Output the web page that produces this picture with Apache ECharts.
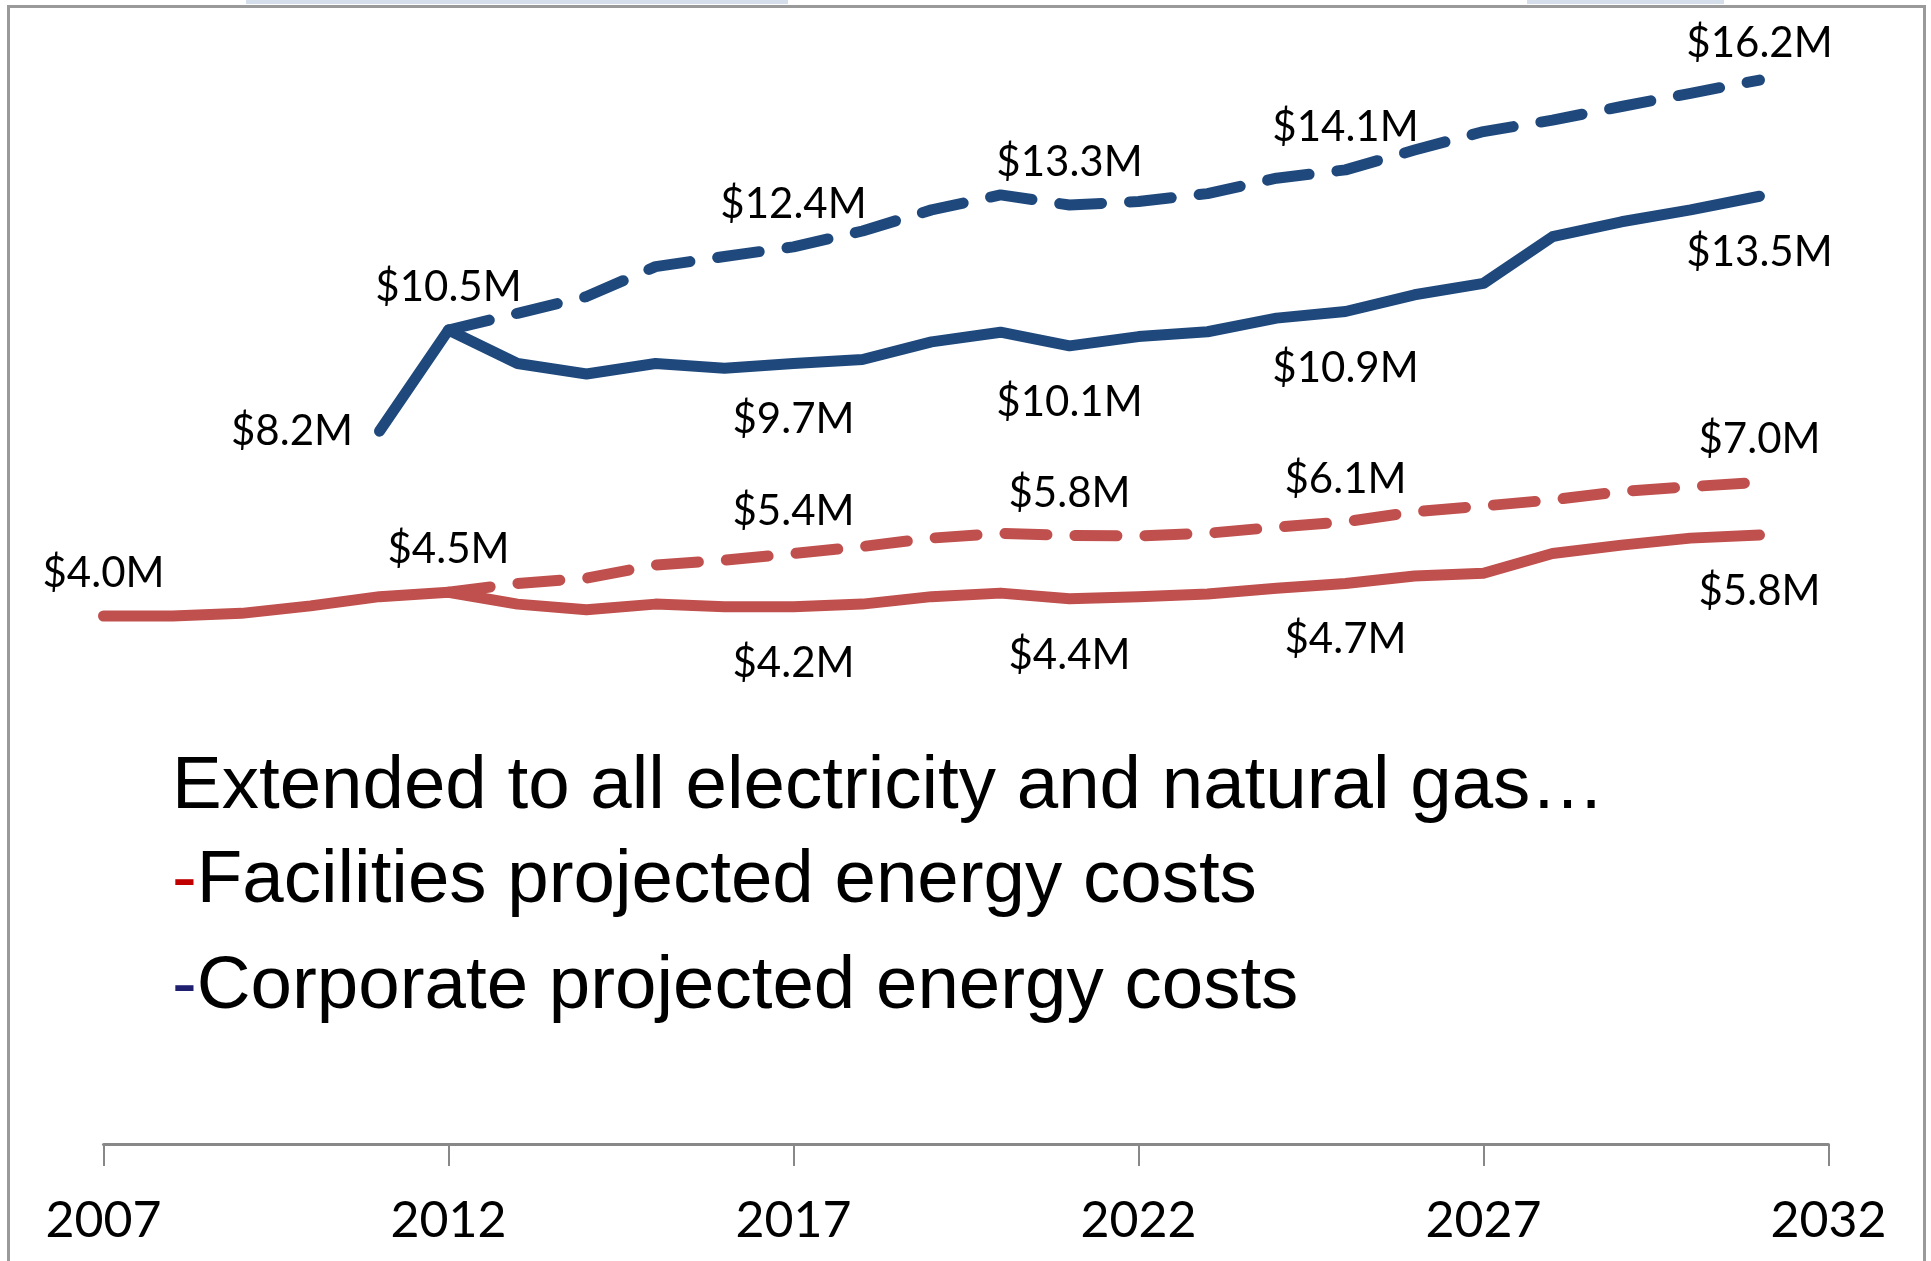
<!DOCTYPE html>
<html>
<head>
<meta charset="utf-8">
<script src="https://cdn.jsdelivr.net/npm/echarts@6/dist/echarts.min.js"></script>
<style>
html,body{margin:0;padding:0;background:#fff;}
#chart{width:1931px;height:1261px;}
</style>
</head>
<body>
<div id="chart"></div>
<script>
// ---- data ----
const years = [2007,2008,2009,2010,2011,2012,2013,2014,2015,2016,2017,2018,2019,2020,2021,2022,2023,2024,2025,2026,2027,2028,2029,2030,2031];
const xTicks = [2007, 2012, 2017, 2022, 2027, 2032];

// Facilities (red) - solid: base projection, dashed: extended
const facilitiesSolid = [4.0,4.0,4.06,4.23,4.44,4.54,4.27,4.14,4.27,4.21,4.21,4.27,4.44,4.52,4.39,4.44,4.5,4.63,4.74,4.91,4.97,5.42,5.61,5.77,5.84];
const facilitiesDashed = [null,null,null,null,null,4.54,4.74,4.86,5.16,5.27,5.42,5.58,5.77,5.88,5.83,5.82,5.88,6.02,6.14,6.37,6.5,6.64,6.83,6.94,7.04];
// Corporate (blue)
const corporateSolid = [null,null,null,null,8.2,10.5,9.74,9.5,9.74,9.63,9.74,9.83,10.23,10.45,10.14,10.35,10.46,10.77,10.92,11.3,11.56,12.62,12.96,13.23,13.54];
const corporateDashed = [null,null,null,null,null,10.5,10.88,11.26,11.94,12.17,12.39,12.75,13.23,13.57,13.34,13.42,13.6,13.95,14.14,14.59,15.01,15.27,15.58,15.88,16.18];

// label placements: year -> position
const facilitiesSolidLabels = {2007:'top',2012:'top',2017:'bottom',2021:'bottom',2025:'bottom',2031:'bottom'};
const facilitiesDashedLabels = {2017:'top',2021:'top',2025:'top',2031:'top'};
const corporateSolidLabels = {2011:'left',2012:'top',2017:'bottom',2021:'bottom',2025:'bottom',2031:'bottom'};
const corporateDashedLabels = {2017:'top',2021:'top',2025:'top',2031:'top-near'};

const textLines = ['Extended to all electricity and natural gas\u2026','Facilities projected energy costs','Corporate projected energy costs'];

const RED = '#C0504D', BLUE = '#1F497D';
const labelFont = {fontFamily:'Lato', fontSize:42, color:'#000', lineHeight:42};

function build(vals, labels){
  const out = [];
  years.forEach((y,i)=>{
    const v = vals[i];
    if (v === null || v === undefined) return;
    const item = {value:[y,v]};
    const pos = labels[y];
    if (pos){
      let lab = Object.assign({show:true, formatter: p => '$' + p.value[1].toFixed(1) + 'M'}, labelFont);
      if (pos === 'top') Object.assign(lab, {position:'top', distance:21});
      else if (pos === 'top-near') Object.assign(lab, {position:'top', distance:15});
      else if (pos === 'bottom') Object.assign(lab, {position:'bottom', distance:35});
      else Object.assign(lab, {position:'left', distance:26});
      item.label = lab;
    }
    out.push(item);
  });
  return out;
}

function lineSeries(name, vals, labels, color, dashed){
  return {
    name, type:'line', data: build(vals, labels),
    symbol:'circle', symbolSize:1, showSymbol:true, showAllSymbol:true,
    itemStyle:{color:'rgba(0,0,0,0)', borderWidth:0},
    lineStyle:{color:color, width:11, type: dashed ? [42,28] : 'solid', cap:'round', join:'round'},
    label:{show:false},
    labelLayout:{hideOverlap:false},
    emphasis:{disabled:true},
    animation:false, z: dashed ? 3 : 2
  };
}

const FONT = '"Liberation Sans", Arial';
const FS = 74.5;
const chart = echarts.init(document.getElementById('chart'), null, {renderer:'canvas'});
chart.setOption({
  animation:false,
  backgroundColor:'#ffffff',
  grid:{left:103.5, right:102.5, top:44, bottom:117},
  xAxis:{
    type:'value', min:xTicks[0], max:xTicks[xTicks.length-1], interval:5,
    axisLine:{show:true, onZero:false, lineStyle:{color:'#888888', width:3}},
    axisTick:{show:true, length:22, lineStyle:{color:'#888888', width:2}},
    splitLine:{show:false},
    axisLabel:{fontFamily:'Lato', fontSize:50, color:'#000', margin:52, formatter: v => String(v)}
  },
  yAxis:{type:'value', min:-8, max:17, show:false, splitLine:{show:false}},
  series:[
    lineSeries('Facilities', facilitiesSolid, facilitiesSolidLabels, RED, false),
    lineSeries('Facilities extended', facilitiesDashed, facilitiesDashedLabels, RED, true),
    lineSeries('Corporate', corporateSolid, corporateSolidLabels, BLUE, false),
    lineSeries('Corporate extended', corporateDashed, corporateDashedLabels, BLUE, true)
  ],
  graphic:[
    {type:'rect', shape:{x:246, y:0, width:542, height:4}, style:{fill:'#d5deeb'}, silent:true},
    {type:'rect', shape:{x:1527, y:0, width:197, height:4}, style:{fill:'#d5deeb'}, silent:true},
    {type:'rect', shape:{x:8.5, y:6.5, width:1916, height:1300}, style:{fill:null, stroke:'#9a9a9a', lineWidth:3}, silent:true},
    {type:'text', x:172, y:787, silent:true,
      style:{text:textLines[0], fontFamily:FONT, fontSize:FS, fill:'#000', verticalAlign:'middle', align:'left'}},
    {type:'text', x:172, y:881, silent:true,
      style:{text:'{r|-}{t|' + textLines[1] + '}', fontFamily:FONT, fontSize:FS, fill:'#000', verticalAlign:'middle', align:'left',
        rich:{r:{fill:'#C00000', fontFamily:FONT, fontSize:FS}, t:{fill:'#000', fontFamily:FONT, fontSize:FS}}}},
    {type:'text', x:172, y:987, silent:true,
      style:{text:'{b|-}{t|' + textLines[2] + '}', fontFamily:FONT, fontSize:FS, fill:'#000', verticalAlign:'middle', align:'left',
        rich:{b:{fill:'#1F1F70', fontFamily:FONT, fontSize:FS}, t:{fill:'#000', fontFamily:FONT, fontSize:FS}}}}
  ]
});
</script>
</body>
</html>
